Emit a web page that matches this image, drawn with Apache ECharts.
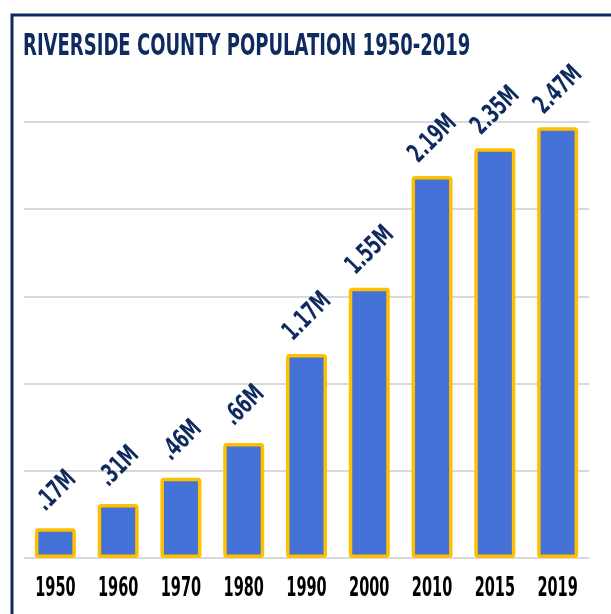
<!DOCTYPE html>
<html>
<head>
<meta charset="utf-8">
<script src="https://cdn.jsdelivr.net/npm/echarts@6/dist/echarts.min.js"></script>
<style>
html,body{margin:0;padding:0;background:#fff;}
#chart{width:611px;height:614px;}
</style>
</head>
<body>
<div id="chart"></div>
<script>
const titleText = 'RIVERSIDE COUNTY POPULATION 1950-2019';
const years = ['1950','1960','1970','1980','1990','2000','2010','2015','2019'];
const population = [0.17, 0.31, 0.46, 0.66, 1.17, 1.55, 2.19, 2.35, 2.47];
const valueLabels = ['.17M','.31M','.46M','.66M','1.17M','1.55M','2.19M','2.35M','2.47M'];

const NAVY = '#0E2A5E';
const FONT = "'DejaVu Sans Condensed', sans-serif";

const chart = echarts.init(document.getElementById('chart'), null, {renderer:'canvas'});
chart.setOption({
  backgroundColor: '#fff',
  animation: false,
  graphic: [
    {type:'rect', shape:{x:12, y:15, width:700, height:700}, style:{fill:'none', stroke:NAVY, lineWidth:3}, z:10},
    {type:'text', x:23, y:47, scaleX:0.646, style:{text:titleText, fill:NAVY, font:"bold 31px " + FONT, textVerticalAlign:'middle'}, z:10}
  ],
  grid: {left:24, right:22, top:122, bottom:56, containLabel:false},
  xAxis: {
    type:'category', data: years,
    axisLine:{show:false}, axisTick:{show:false},
    axisLabel:{show:false}
  },
  yAxis: {
    type:'value', min:0, max:2.5, interval:0.5,
    axisLabel:{show:false}, axisLine:{show:false}, axisTick:{show:false},
    splitLine:{lineStyle:{color:'#D9D9D9', width:2}}
  },
  series: [{
    type:'bar', data: population, barWidth:41,
    itemStyle:{color:'#4472D6', borderColor:'#FFC000', borderWidth:3.5, borderRadius:2}
  }, {
    // rotated value labels above each bar (condensed text)
    type:'custom', z:5, silent:true,
    data: population.map((v, i) => [i, v]),
    renderItem: (params, api) => {
      const p = api.coord([api.value(0), api.value(1)]);
      return {
        type:'text', x: p[0] + 1, y: p[1] - 37, rotation: Math.PI / 4, scaleX: 0.72, scaleY: 1.05,
        style:{text: valueLabels[params.dataIndex], fill: NAVY, font: "bold 25px " + FONT, textAlign:'center', textVerticalAlign:'middle'}
      };
    }
  }, {
    // category labels under the axis (condensed text)
    type:'custom', z:5, silent:true,
    data: years.map((y, i) => [i, 0]),
    renderItem: (params, api) => {
      const p = api.coord([api.value(0), api.value(1)]);
      return {
        type:'text', x: p[0], y: p[1] + 31, scaleX: 0.62,
        style:{text: years[params.dataIndex], fill: '#000', font: "bold 26px " + FONT, textAlign:'center', textVerticalAlign:'middle'}
      };
    }
  }]
});
</script>
</body>
</html>
